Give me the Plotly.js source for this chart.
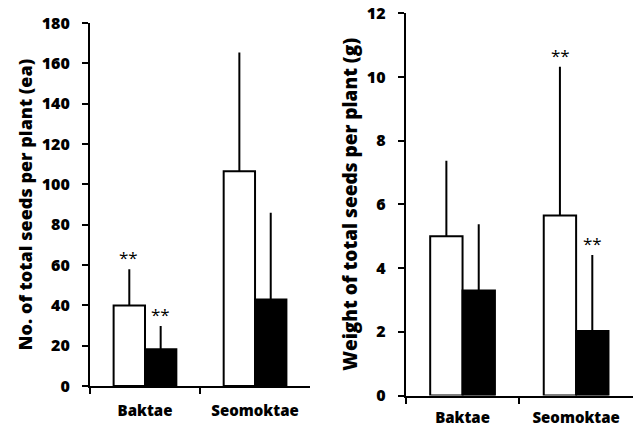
<!DOCTYPE html>
<html><head><meta charset="utf-8">
<script src="https://cdn.plot.ly/plotly-3.0.1.min.js"></script>
<style>html,body{margin:0;padding:0;background:#fff}#c{width:638px;height:429px}</style>
</head><body><div id="c"></div>
<script>
const categories = ['Baktae', 'Seomoktae'];
// Left panel: number of seeds (ea)
const countWhite = [40, 106.5];
const countWhiteErr = [18, 59];
const countBlack = [18.3, 43];
const countBlackErr = [11.5, 43];
// Right panel: weight of seeds (g)
const weightWhite = [5.0, 5.65];
const weightWhiteErr = [2.37, 4.67];
const weightBlack = [3.3, 2.03];
const weightBlackErr = [2.08, 2.38];
// Significance marks
const countWhiteSig = ['**', ''];
const countBlackSig = ['**', ''];
const weightWhiteSig = ['', '**'];
const weightBlackSig = ['', '**'];

const FONT = 'Open Sans, Noto Sans, sans-serif';

function barTrace(y, err, fill, xa, ya) {
  return {
    type: 'bar', x: categories, y: y, xaxis: xa, yaxis: ya,
    marker: {color: fill, line: {color: '#000', width: 2}},
    error_y: {type: 'data', symmetric: false, array: err, arrayminus: err.map(() => 0),
              color: '#000', thickness: 2, width: 0},
    showlegend: false, hoverinfo: 'skip'
  };
}

const data = [
  barTrace(countWhite, countWhiteErr, '#fff', 'x', 'y'),
  barTrace(countBlack, countBlackErr, '#000', 'x', 'y'),
  barTrace(weightWhite, weightWhiteErr, '#fff', 'x2', 'y2'),
  barTrace(weightBlack, weightBlackErr, '#000', 'x2', 'y2')
];

const annotations = [];
function addSig(sig, vals, errs, shift, xr, yr) {
  sig.forEach((s, i) => {
    if (!s) return;
    annotations.push({x: categories[i], y: vals[i] + errs[i], xref: xr, yref: yr,
      text: s, showarrow: false, xshift: shift, yanchor: 'bottom', yshift: -2,
      font: {family: FONT, size: 17, color: '#000'}});
  });
}
addSig(countWhiteSig, countWhite, countWhiteErr, -16, 'x', 'y');
addSig(countBlackSig, countBlack, countBlackErr, 16, 'x', 'y');
addSig(weightWhiteSig, weightWhite, weightWhiteErr, -16, 'x2', 'y2');
addSig(weightBlackSig, weightBlack, weightBlackErr, 16, 'x2', 'y2');

const xTickFont = {family: FONT, size: 15, color: '#000', weight: 800};
const yTickFont = {family: FONT, size: 16, color: '#000', weight: 800};
function xAxis(domain, anchor, standoff) {
  return {domain: domain, anchor: anchor, type: 'category', range: [-0.5, 1.5],
    showline: true, linecolor: '#000', linewidth: 2, ticks: 'outside', tickson: 'boundaries',
    ticklen: 6, tickwidth: 2, tickcolor: '#000', tickfont: xTickFont, ticklabelstandoff: standoff,
    showgrid: false, zeroline: false, fixedrange: true};
}
function yAxis(domain, anchor, range, dtick, title, tsize) {
  return {domain: domain, anchor: anchor, range: range, dtick: dtick,
    showline: true, linecolor: '#000', linewidth: 2, ticks: 'outside', ticklen: 6,
    tickwidth: 2, tickcolor: '#000', tickfont: yTickFont, ticklabelstandoff: 9,
    showgrid: false, zeroline: false,
    title: {text: title, font: {family: FONT, size: tsize, color: '#000', weight: 800}, standoff: 4},
    fixedrange: true};
}

const layout = {
  width: 638, height: 429, margin: {l: 0, r: 0, t: 0, b: 0},
  paper_bgcolor: '#fff', plot_bgcolor: '#fff',
  barmode: 'group', bargap: 0.43, bargroupgap: 0,
  xaxis: xAxis([0.141, 0.486], 'y', 10),
  yaxis: yAxis([0.100, 0.946], 'x', [0, 180], 20, 'No. of total seeds per plant (ea)', 18),
  xaxis2: xAxis([0.636, 0.992], 'y2', 7),
  yaxis2: yAxis([0.078, 0.969], 'x2', [0, 12], 2, 'Weight of total seeds per plant (g)', 19),
  annotations: annotations,
  font: {family: FONT}
};

Plotly.newPlot('c', data, layout, {displayModeBar: false, staticPlot: true});
</script></body></html>
